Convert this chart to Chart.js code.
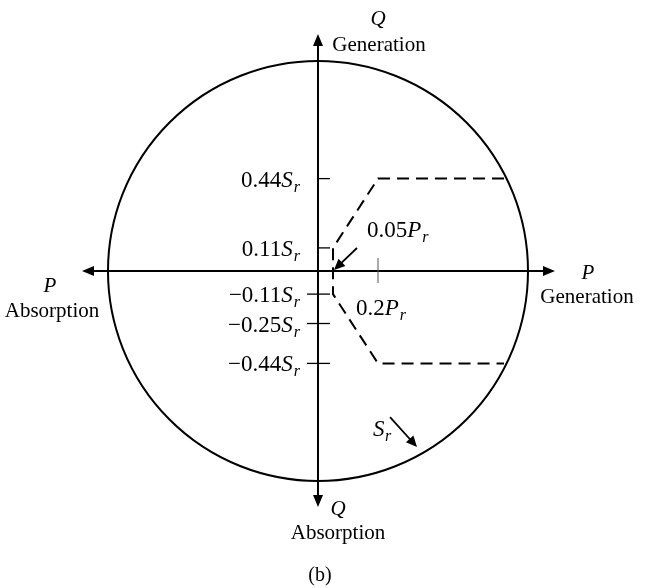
<!DOCTYPE html>
<html>
<head>
<meta charset="utf-8">
<title>P-Q capability</title>
<script src="https://cdn.jsdelivr.net/npm/chart.js@4.4.1/dist/chart.umd.min.js"></script>
<style>
  html, body { margin: 0; padding: 0; background: #fff; }
  canvas { display: block; }
</style>
</head>
<body>
<canvas id="pq" width="647" height="588"></canvas>
<script>
// rated apparent power circle (in Sr)
const RATED_S = 1;

// reactive power limits on the Q axis (in Sr)
const Q_TICKS = [0.44, 0.11, -0.11, -0.25, -0.44];
const Q_TICK_LABELS = ['0.44', '0.11', '\u22120.11', '\u22120.25', '\u22120.44'];

// active power marks on the P axis (in Pr)
const P_TICKS = [0.2];
const P_TICK_LABELS = ['0.2'];
const MIN_P = 0.05;
const MIN_P_LABEL = '0.05';

// dashed operating limit
const LIMIT_P = [0.62, 0.2, 0.05, 0.05, 0.2, 0.62];
const LIMIT_Q = [0.44, 0.44, 0.11, -0.11, -0.44, -0.44];

// visible window of the diagram
const P_RANGE = [-1.06, 1.0967];
const Q_RANGE = [-1.5095, 1.2905];

const SERIF = '"Liberation Serif", "Times New Roman", serif';
const INK = '#000';

function arrowHead(ctx, x1, y1, x2, y2, len, half){
  const a = Math.atan2(y2 - y1, x2 - x1);
  const bx = x2 - len * Math.cos(a), by = y2 - len * Math.sin(a);
  ctx.beginPath();
  ctx.moveTo(x2, y2);
  ctx.lineTo(bx - half * Math.sin(a), by + half * Math.cos(a));
  ctx.lineTo(bx + half * Math.sin(a), by - half * Math.cos(a));
  ctx.closePath();
  ctx.fill();
  return [bx, by];
}

function arrow(ctx, x1, y1, x2, y2, len, half, lw){
  const a = Math.atan2(y2 - y1, x2 - x1);
  ctx.lineWidth = lw;
  ctx.beginPath();
  ctx.moveTo(x1, y1);
  ctx.lineTo(x2 - len * 0.8 * Math.cos(a), y2 - len * 0.8 * Math.sin(a));
  ctx.stroke();
  arrowHead(ctx, x1, y1, x2, y2, len, half);
}

function doubleArrow(ctx, x1, y1, x2, y2, len, half, lw){
  const a = Math.atan2(y2 - y1, x2 - x1);
  const c = Math.cos(a) * len * 0.8, s = Math.sin(a) * len * 0.8;
  ctx.lineWidth = lw;
  ctx.beginPath();
  ctx.moveTo(x1 + c, y1 + s);
  ctx.lineTo(x2 - c, y2 - s);
  ctx.stroke();
  arrowHead(ctx, x2, y2, x1, y1, len, half);
  arrowHead(ctx, x1, y1, x2, y2, len, half);
}

// number + italic symbol + italic subscript, e.g. 0.44 S_r
function mathLabel(ctx, num, sym, sub, x, baseline, align){
  const big = '23px ' + SERIF, bigIt = 'italic 23px ' + SERIF, small = 'italic 16px ' + SERIF;
  ctx.font = big;   const w1 = ctx.measureText(num).width;
  ctx.font = bigIt; const w2 = ctx.measureText(sym).width;
  ctx.font = small; const w3 = ctx.measureText(sub).width;
  let left = align === 'right' ? x - (w1 + w2 + w3 + 1) : x;
  ctx.textAlign = 'left';
  ctx.textBaseline = 'alphabetic';
  ctx.font = big;   ctx.fillText(num, left, baseline);
  ctx.font = bigIt; ctx.fillText(sym, left + w1, baseline);
  ctx.font = small; ctx.fillText(sub, left + w1 + w2 + 1, baseline + 5);
}

function text(ctx, str, x, y, font){
  ctx.font = font;
  ctx.textAlign = 'center';
  ctx.textBaseline = 'middle';
  ctx.fillText(str, x, y);
}

const diagram = {
  id: 'diagram',
  beforeDatasetsDraw(chart){
    const ctx = chart.ctx, xs = chart.scales.x, ys = chart.scales.y;
    const ox = xs.getPixelForValue(0), oy = ys.getPixelForValue(0);
    const r = oy - ys.getPixelForValue(RATED_S);
    ctx.save();
    ctx.strokeStyle = INK;
    ctx.lineWidth = 2;
    ctx.beginPath();
    ctx.arc(ox, oy, r, 0, Math.PI * 2);
    ctx.stroke();
    ctx.restore();
  },
  afterDatasetsDraw(chart){
    const ctx = chart.ctx, xs = chart.scales.x, ys = chart.scales.y;
    const ox = xs.getPixelForValue(0), oy = ys.getPixelForValue(0);
    const r = oy - ys.getPixelForValue(RATED_S);
    ctx.save();
    ctx.strokeStyle = INK;
    ctx.fillStyle = INK;
    ctx.lineCap = 'butt';

    // P and Q axes
    doubleArrow(ctx, ox - 236, oy, ox + 237, oy, 12, 5, 2);
    doubleArrow(ctx, ox, oy - 237, ox, oy + 236, 12, 5, 2);

    // Q ticks and labels
    ctx.lineWidth = 1.3;
    Q_TICKS.forEach((q, i) => {
      const py = ys.getPixelForValue(q);
      ctx.beginPath();
      ctx.moveTo(q < 0 ? ox - 11 : ox, py);
      ctx.lineTo(ox + 12, py);
      ctx.stroke();
      mathLabel(ctx, Q_TICK_LABELS[i], 'S', 'r', ox - 18, py + 8, 'right');
    });

    // P ticks and labels
    ctx.strokeStyle = '#555';
    ctx.lineWidth = 1;
    P_TICKS.forEach((p, i) => {
      const px = xs.getPixelForValue(p);
      ctx.beginPath();
      ctx.moveTo(px, oy - 13);
      ctx.lineTo(px, oy + 12);
      ctx.stroke();
      mathLabel(ctx, P_TICK_LABELS[i], 'P', 'r', px - 22, oy + 44, 'left');
    });
    ctx.strokeStyle = INK;

    // minimum active power pointer
    const mx = xs.getPixelForValue(MIN_P);
    arrow(ctx, mx + 24, oy - 23, mx + 1, oy - 1, 11, 5, 1.8);
    mathLabel(ctx, MIN_P_LABEL, 'P', 'r', mx + 34, oy - 34, 'left');

    // rated apparent power pointer
    const a = Math.atan2(176, 99);
    const tx = ox + (r - 8) * Math.cos(a), ty = oy + (r - 8) * Math.sin(a);
    arrow(ctx, tx - 27, ty - 30, tx, ty, 11, 5, 1.8);
    ctx.font = 'italic 23px ' + SERIF;
    ctx.textAlign = 'left';
    ctx.textBaseline = 'alphabetic';
    ctx.fillText('S', tx - 44, ty - 11);
    ctx.font = 'italic 16px ' + SERIF;
    ctx.fillText('r', tx - 32, ty - 6);

    // axis captions
    const it = 'italic 21px ' + SERIF, rm = '21px ' + SERIF;
    text(ctx, 'Q', ox + 60, oy - 252, it);
    text(ctx, 'Generation', ox + 61, oy - 226, rm);
    text(ctx, 'Q', ox + 20, oy + 238, it);
    text(ctx, 'Absorption', ox + 20, oy + 262, rm);
    text(ctx, 'P', ox - 268, oy + 15, it);
    text(ctx, 'Absorption', ox - 266, oy + 40, rm);
    text(ctx, 'P', ox + 270, oy + 2, it);
    text(ctx, 'Generation', ox + 269, oy + 26, rm);
    text(ctx, '(b)', ox + 2, oy + 305, '20px ' + SERIF);
    ctx.restore();
  }
};

const limitPoints = LIMIT_P.map((p, i) => ({ x: p, y: LIMIT_Q[i] }));

new Chart(document.getElementById('pq'), {
  type: 'scatter',
  data: {
    datasets: [{
      label: 'limit',
      data: limitPoints,
      showLine: true,
      borderColor: INK,
      borderWidth: 2,
      borderDash: [12, 7],
      pointRadius: 0,
      tension: 0,
      fill: false
    }]
  },
  options: {
    responsive: false,
    animation: false,
    devicePixelRatio: 1,
    layout: { padding: 0 },
    plugins: { legend: { display: false }, tooltip: { enabled: false } },
    scales: {
      x: { type: 'linear', display: false, min: P_RANGE[0], max: P_RANGE[1] },
      y: { type: 'linear', display: false, min: Q_RANGE[0], max: Q_RANGE[1] }
    }
  },
  plugins: [diagram]
});
</script>
</body>
</html>
